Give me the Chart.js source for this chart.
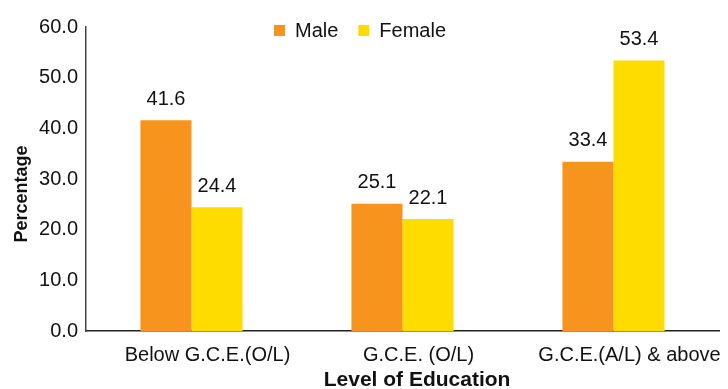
<!DOCTYPE html>
<html>
<head>
<meta charset="utf-8">
<script src="https://cdn.jsdelivr.net/npm/chart.js@4/dist/chart.umd.min.js"></script>
<style>
  html, body { margin: 0; padding: 0; background: #fff; }
  #wrap { width: 728px; height: 389px; }
</style>
</head>
<body>
<div id="wrap"><canvas id="eduChart"></canvas></div>
<script>
const categories = ['Below G.C.E.(O/L)', 'G.C.E. (O/L)', 'G.C.E.(A/L) & above'];
const maleValues = [41.6, 25.1, 33.4];
const femaleValues = [24.4, 22.1, 53.4];
const yTicks = [0, 10, 20, 30, 40, 50, 60];

const FONT = '"Liberation Sans", Arial, Helvetica, sans-serif';

// value labels above each bar
const barLabels = {
    id: 'barLabels',
    afterDatasetsDraw(chart) {
        const ctx = chart.ctx;
        ctx.save();
        ctx.font = '20px ' + FONT;
        ctx.fillStyle = '#111';
        ctx.textAlign = 'center';
        ctx.textBaseline = 'bottom';
        chart.data.datasets.forEach((ds, i) => {
            chart.getDatasetMeta(i).data.forEach((bar, j) => {
                ctx.fillText(ds.data[j].toFixed(1), bar.x, bar.y - 11);
            });
        });
        ctx.restore();
    }
};

// legend sitting over the top of the plot, centred on the page
const topLegend = {
    id: 'topLegend',
    afterDraw(chart) {
        const ctx = chart.ctx;
        ctx.save();
        ctx.font = '20px ' + FONT;
        ctx.textBaseline = 'middle';
        const box = 11, gap = 10, space = 20;
        const items = chart.data.datasets.map(ds => ({
            label: ds.label, color: ds.backgroundColor, w: ctx.measureText(ds.label).width
        }));
        let total = items.reduce((s, it) => s + box + gap + it.w, 0) + space * (items.length - 1);
        let x = chart.width / 2 - total / 2 - 4;
        const cy = 31;
        items.forEach(it => {
            ctx.fillStyle = it.color;
            ctx.fillRect(x, cy - 6, box, box);
            x += box + gap;
            ctx.fillStyle = '#111';
            ctx.fillText(it.label, x, cy);
            x += it.w + space;
        });
        ctx.restore();
    }
};

const ctx = document.getElementById('eduChart').getContext('2d');

new Chart(ctx, {
    type: 'bar',
    data: {
        labels: categories,
        datasets: [
            { label: 'Male', data: maleValues, backgroundColor: '#F7941D' },
            { label: 'Female', data: femaleValues, backgroundColor: '#FFDC00' }
        ]
    },
    options: {
        responsive: true,
        maintainAspectRatio: false,
        animation: false,
        layout: { padding: { top: 27, right: 9, left: 0, bottom: 0 } },
        plugins: {
            legend: { display: false },
            tooltip: { enabled: false }
        },
        datasets: {
            bar: { barPercentage: 1, categoryPercentage: 0.484 }
        },
        scales: {
            x: {
                grid: { display: false, drawTicks: false },
                border: { display: true, color: '#222', width: 1.5 },
                ticks: {
                    color: '#111',
                    font: { family: FONT, size: 20 },
                    padding: 12,
                    labelOffset: 16,
                    maxRotation: 0
                },
                title: {
                    display: true,
                    text: '     Level of Education',
                    color: '#111',
                    font: { family: FONT, size: 21, weight: 'bold' },
                    padding: { top: 0, bottom: -4 }
                },
                afterFit(scale) { scale.height = 58; }
            },
            y: {
                min: 0,
                max: 60,
                grid: { display: false, drawTicks: false },
                border: { display: true, color: '#444', width: 1.5 },
                afterBuildTicks(scale) { scale.ticks = yTicks.map(v => ({ value: v })); },
                ticks: {
                    color: '#111',
                    font: { family: FONT, size: 20 },
                    padding: 8,
                    callback: v => Number(v).toFixed(1)
                },
                title: {
                    display: true,
                    text: 'Percentage      ',
                    color: '#111',
                    font: { family: FONT, size: 18, weight: 'bold' },
                    padding: { top: 11, bottom: 0 }
                },
                afterFit(scale) { scale.width = 86; }
            }
        }
    },
    plugins: [barLabels, topLegend]
});
</script>
</body>
</html>
